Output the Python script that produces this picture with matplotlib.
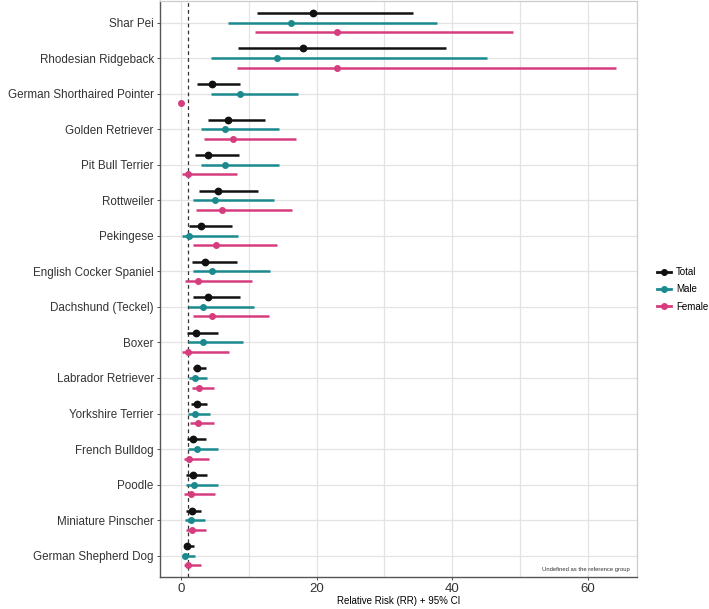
import matplotlib.pyplot as plt
from matplotlib.lines import Line2D
import numpy as np

plt.rcParams['font.family'] = ['Liberation Sans', 'DejaVu Sans']

breeds = ["Shar Pei", "Rhodesian Ridgeback", "German Shorthaired Pointer",
          "Golden Retriever", "Pit Bull Terrier", "Rottweiler", "Pekingese",
          "English Cocker Spaniel", "Dachshund (Teckel)", "Boxer",
          "Labrador Retriever", "Yorkshire Terrier", "French Bulldog",
          "Poodle", "Miniature Pinscher", "German Shepherd Dog"]

# relative risk estimates with 95% CI (lower, upper)
total_rr = [19.5, 18.0, 4.5, 6.9, 4.0, 5.4, 3.0, 3.6, 4.0, 2.2, 2.4, 2.3, 1.8, 1.7, 1.6, 0.9]
total_lo = [11.2, 8.4, 2.4, 4.0, 2.0, 2.6, 1.2, 1.6, 1.8, 0.9, 1.7, 1.4, 0.9, 0.8, 0.8, 0.4]
total_hi = [34.2, 39.1, 8.7, 12.4, 8.5, 11.4, 7.5, 8.3, 8.7, 5.5, 3.7, 3.8, 3.7, 3.8, 2.9, 1.9]

male_rr = [16.2, 14.1, 8.7, 6.5, 6.5, 5.0, 1.2, 4.6, 3.3, 3.2, 2.1, 2.1, 2.3, 1.9, 1.5, 0.6]
male_lo = [6.9, 4.4, 4.4, 2.9, 2.9, 1.7, 0.2, 1.7, 1.0, 1.1, 1.2, 1.0, 1.1, 0.8, 0.6, 0.2]
male_hi = [37.8, 45.1, 17.3, 14.5, 14.4, 13.7, 8.4, 13.1, 10.8, 9.1, 3.8, 4.3, 5.5, 5.5, 3.5, 2.1]

female_rr = [23.0, 23.0, 0.0, 7.6, 1.1, 6.1, 5.1, 2.5, 4.6, 1.0, 2.7, 2.5, 1.2, 1.5, 1.6, 1.1]
female_lo = [10.9, 8.3, np.nan, 3.4, 0.2, 2.2, 1.8, 0.6, 1.7, 0.2, 1.6, 1.3, 0.4, 0.4, 0.7, 0.4]
female_hi = [49.0, 64.2, np.nan, 16.9, 8.3, 16.3, 14.1, 10.4, 12.9, 7.1, 4.8, 4.9, 4.1, 5.0, 3.7, 2.9]

colors = {"Total": "#111111", "Male": "#1b8a8f", "Female": "#d63d7f"}
series = [("Total", total_rr, total_lo, total_hi, 0.27, 4.6),
          ("Male", male_rr, male_lo, male_hi, 0.0, 4.0),
          ("Female", female_rr, female_lo, female_hi, -0.27, 4.0)]

fig = plt.figure(figsize=(7.09, 6.09), dpi=100)
ax = fig.add_axes([0.2257, 0.0525, 0.6723, 0.9455])

ypos = np.arange(len(breeds))[::-1]

for name, rr, lo, hi, off, ms in series:
    y = ypos + off
    c = colors[name]
    ax.hlines(y, lo, hi, color=c, lw=1.8, zorder=3)
    ax.plot(rr, y, 'o', color=c, ms=ms, zorder=4, lw=0)

ax.axvline(1, color="#333333", ls=(0, (3, 2.5)), lw=0.9, zorder=2)

ax.set_xlim(-3.1, 67.2)
ax.set_ylim(-0.6, 15.6)
ax.set_yticks(ypos)
ax.set_yticklabels(breeds, fontsize=8.4, color="#222222")
ax.set_xticks([0, 20, 40, 60])
ax.set_xticks([10, 30, 50], minor=True)
ax.tick_params(axis='x', labelsize=9.5, colors="#333333", length=2.5, width=0.6, pad=1.5)
ax.tick_params(axis='y', length=2.5, width=0.6, colors="#333333", pad=2)
ax.tick_params(which='minor', length=0)
ax.set_axisbelow(True)
ax.grid(True, which='both', color="#e3e3e3", lw=0.9)
ax.set_xlabel("Relative Risk (RR) + 95% CI", fontsize=7, labelpad=1)

for s in ["left", "bottom"]:
    ax.spines[s].set_color("#555555")
    ax.spines[s].set_linewidth(1.0)
for s in ["top", "right"]:
    ax.spines[s].set_color("#cccccc")
    ax.spines[s].set_linewidth(0.9)

ax.text(0.985, 0.008, "Undefined as the reference group", transform=ax.transAxes,
        ha='right', va='bottom', fontsize=4.2, color="#333333")

handles = [Line2D([0], [0], color=colors[n], lw=2, marker='o', ms=4) for n, *_ in series]
fig.legend(handles, [n for n, *_ in series], loc='center left',
           bbox_to_anchor=(0.915, 0.525), frameon=False, fontsize=7,
           handlelength=1.4, handletextpad=0.5, labelspacing=0.75)

fig.savefig("out.png", dpi=100)
